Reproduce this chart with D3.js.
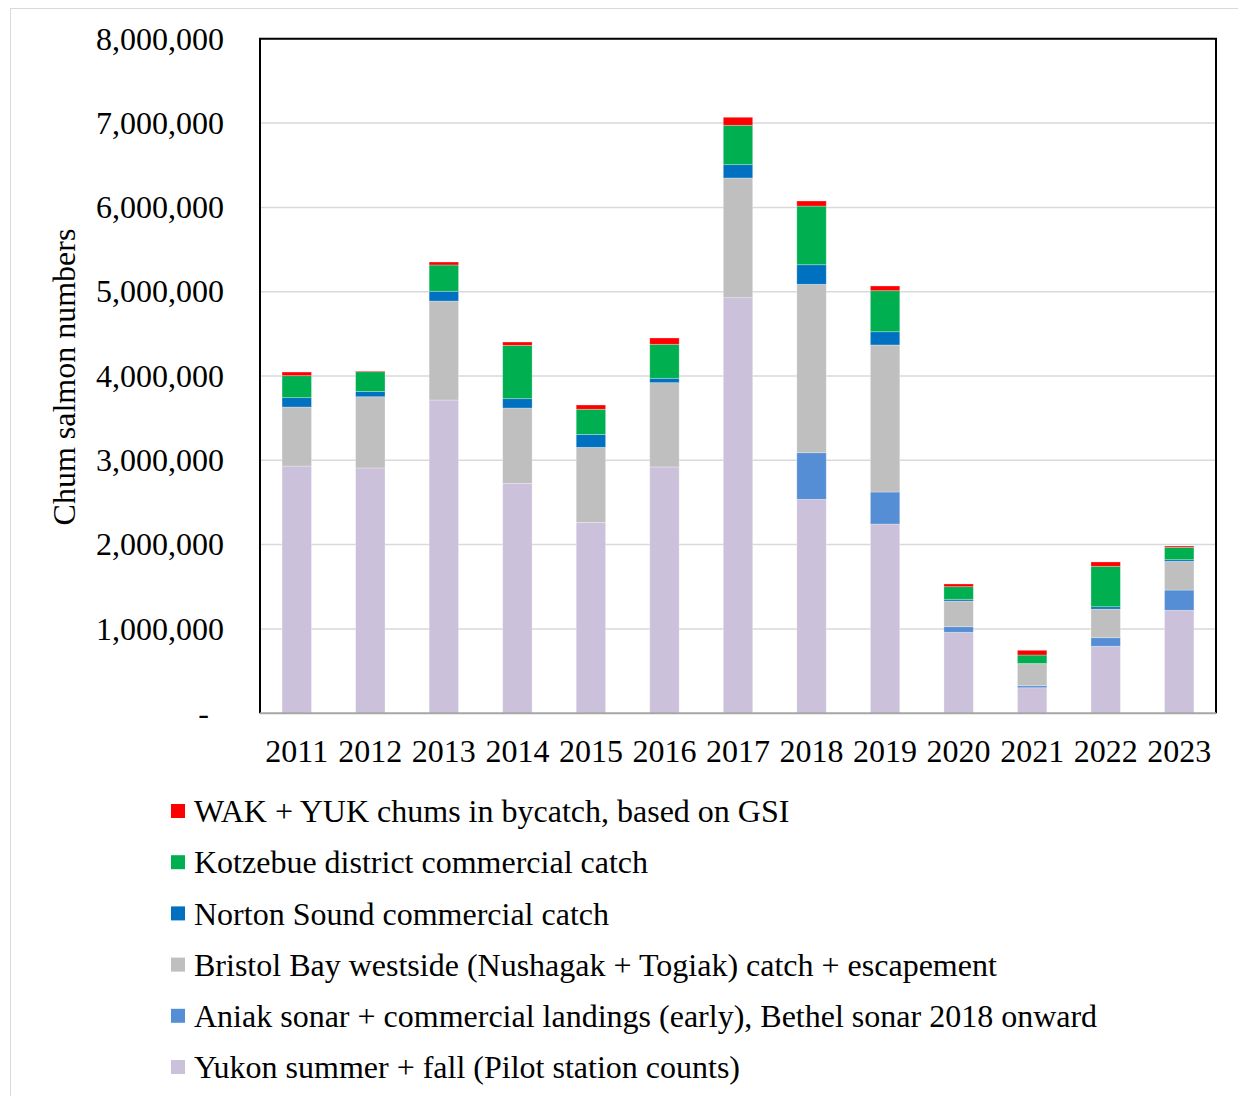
<!DOCTYPE html>
<html><head><meta charset="utf-8">
<script src="https://cdn.jsdelivr.net/npm/d3@7"></script>
<style>body{margin:0;background:#fff;} svg{display:block;} text{font-family:"Liberation Serif","Times New Roman",serif;fill:#000;}</style>
</head><body>
<svg id="chart" width="1238" height="1096"></svg>
<script>
const years = ["2011","2012","2013","2014","2015","2016","2017","2018","2019","2020","2021","2022","2023"];
const yukon    = [2932000,2909000,3715000,2727000,2263000,2921000,4929000,2537000,2244000,960000,302000,794000,1221000];
const aniak    = [0,0,0,0,0,0,0,553000,380000,66000,24000,102000,240000];
const bristol  = [700000,845000,1174000,893000,891000,1000000,1420000,1998000,1744000,305000,261000,340000,341000];
const norton   = [111000,62000,116000,111000,152000,52000,158000,232000,157000,20000,3000,27000,19000];
const kotzebue = [261000,235000,312000,633000,299000,403000,467000,696000,487000,150000,100000,480000,147000];
const bycatch  = [43000,8000,35000,39000,51000,75000,95000,60000,56000,32000,56000,51000,15000];
const seriesNames = ["Yukon summer + fall (Pilot station counts)",
  "Aniak sonar + commercial landings (early), Bethel sonar 2018 onward",
  "Bristol Bay westside (Nushagak + Togiak) catch + escapement",
  "Norton Sound commercial catch",
  "Kotzebue district commercial catch",
  "WAK + YUK chums in bycatch, based on GSI"];
const seriesColors = ["#CCC1DA","#558ED5","#BFBFBF","#0070C0","#00B050","#FF0000"];
const yTicks = [0,1000000,2000000,3000000,4000000,5000000,6000000,7000000,8000000];

const keys = ["yukon","aniak","bristol","norton","kotzebue","bycatch"];
const seriesData = [yukon,aniak,bristol,norton,kotzebue,bycatch];
const rows = years.map((y,i)=>{const r={year:y}; keys.forEach((k,j)=>r[k]=seriesData[j][i]); return r;});

const svg = d3.select("#chart");
const L=260,R=1216,T=38.8,B=713.2;
const FS=32;
svg.append("rect").attr("x",10.5).attr("y",8.5).attr("width",1240).attr("height",1100)
  .attr("fill","none").attr("stroke","#d9d9d9").attr("stroke-width",1);

const x = d3.scaleBand().domain(years).range([L,R]).paddingInner(0.6).paddingOuter(0.3);
const y = d3.scaleLinear().domain([0,8000000]).range([B,T]);

// gridlines
svg.append("g").selectAll("line").data(yTicks.filter(d=>d>0)).join("line")
  .attr("x1",L).attr("x2",R).attr("y1",d=>y(d)).attr("y2",d=>y(d))
  .attr("stroke","#d9d9d9").attr("stroke-width",1.5);

const stack = d3.stack().keys(keys)(rows);
svg.append("g").selectAll("g").data(stack).join("g")
  .attr("fill",(d,i)=>seriesColors[i])
  .selectAll("rect").data(d=>d).join("rect")
  .attr("x",d=>x(d.data.year)).attr("width",x.bandwidth())
  .attr("y",d=>y(d[1])).attr("height",d=>Math.max(0,y(d[0])-y(d[1])))
  .attr("stroke","rgba(255,255,255,0.35)").attr("stroke-width",0.8);

// plot border
svg.append("path").attr("d",`M${L},${B}V${T}H${R}V${B}`).attr("fill","none").attr("stroke","#000").attr("stroke-width",2);
svg.append("line").attr("x1",L).attr("x2",R).attr("y1",B).attr("y2",B).attr("stroke","#a6a6a6").attr("stroke-width",2);

// y axis labels
const yAxis = d3.axisLeft(y).tickValues(yTicks).tickSize(0).tickPadding(36)
  .tickFormat(d=> d===0 ? "-" : d3.format(",")(d));
const ga = svg.append("g").attr("transform",`translate(${L},0)`).call(yAxis);
ga.select(".domain").remove();
ga.selectAll("text").attr("font-family","Liberation Serif").attr("font-size",FS).attr("fill","#000")
  .attr("dx",d=>d===0?-15:0);

// x axis labels
const xAxis = d3.axisBottom(x).tickSize(0).tickPadding(26);
const gx = svg.append("g").attr("transform",`translate(0,${B})`).call(xAxis);
gx.select(".domain").remove();
gx.selectAll("text").attr("font-family","Liberation Serif").attr("font-size",FS).attr("fill","#000");

// y title
svg.append("text").attr("transform","translate(75,377) rotate(-90)").attr("text-anchor","middle")
  .attr("font-size",FS).text("Chum salmon numbers");

// legend (reverse order)
const legOrder = [5,4,3,2,1,0];
const lg = svg.append("g");
legOrder.forEach((si,k)=>{
  const cy = 811 + k*51.2;
  lg.append("rect").attr("x",171).attr("y",cy-7).attr("width",14).attr("height",14).attr("fill",seriesColors[si]);
  lg.append("text").attr("x",194).attr("y",cy).attr("dy","0.35em").attr("font-size",FS).text(seriesNames[si]);
});
</script>
</body></html>
